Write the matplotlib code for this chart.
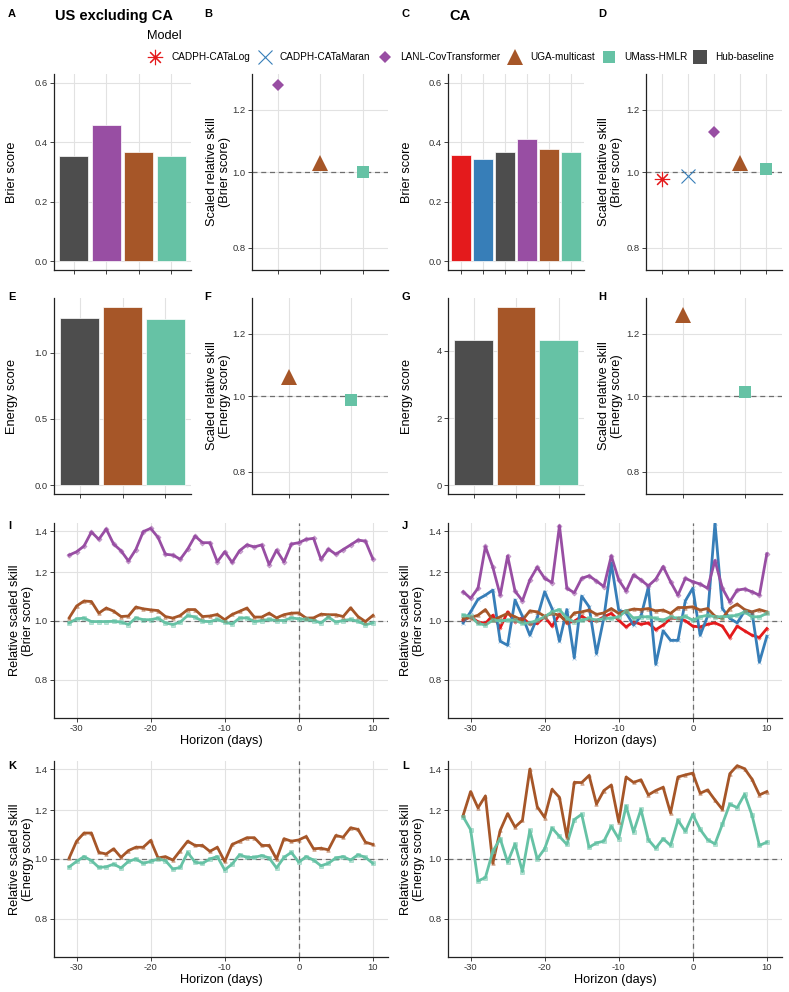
import matplotlib
matplotlib.use("Agg")
import matplotlib.pyplot as plt
import numpy as np
from matplotlib.lines import Line2D
from matplotlib.patches import Rectangle
from matplotlib.ticker import NullLocator
from matplotlib.transforms import blended_transform_factory

plt.rcParams['font.family'] = ['Liberation Sans', 'DejaVu Sans']

# ---- data -------------------------------------------------------------
models = ["CADPH-CATaLog", "CADPH-CATaMaran", "LANL-CovTransformer",
          "UGA-multicast", "UMass-HMLR", "Hub-baseline"]
model_colors = ["#E41A1C", "#377EB8", "#984EA3", "#A65628", "#66C2A5", "#4D4D4D"]
model_markers = [(8, 2, 0), "x", "D", "^", "s", "s"]

# overall scores (bars)
us_brier_models = ["Hub-baseline", "LANL-CovTransformer", "UGA-multicast", "UMass-HMLR"]
us_brier = [0.354, 0.458, 0.366, 0.353]
ca_brier_models = ["CADPH-CATaLog", "CADPH-CATaMaran", "Hub-baseline",
                   "LANL-CovTransformer", "UGA-multicast", "UMass-HMLR"]
ca_brier = [0.357, 0.344, 0.366, 0.410, 0.376, 0.368]
energy_models = ["Hub-baseline", "UGA-multicast", "UMass-HMLR"]
us_energy = [1.262, 1.345, 1.252]
ca_energy = [4.32, 5.31, 4.34]

# scaled relative skill (points)
us_skill_models = ["LANL-CovTransformer", "UGA-multicast", "UMass-HMLR"]
us_brier_skill = [1.29, 1.027, 1.001]
ca_skill_models = ["CADPH-CATaLog", "CADPH-CATaMaran", "LANL-CovTransformer",
                   "UGA-multicast", "UMass-HMLR"]
ca_brier_skill = [0.980, 0.989, 1.126, 1.027, 1.008]
energy_skill_models = ["UGA-multicast", "UMass-HMLR"]
us_energy_skill = [1.057, 0.989]
ca_energy_skill = [1.27, 1.011]

# skill by horizon
horizon = np.arange(-31, 11)

us_brier_lanl = [1.279, 1.295, 1.323, 1.395, 1.357, 1.411, 1.333, 1.300, 1.251, 1.306,
                 1.397, 1.414, 1.367, 1.283, 1.279, 1.259, 1.308, 1.374, 1.340, 1.340,
                 1.247, 1.295, 1.244, 1.300, 1.329, 1.319, 1.329, 1.234, 1.303, 1.247,
                 1.333, 1.340, 1.357, 1.362, 1.258, 1.308, 1.283, 1.306, 1.329, 1.353,
                 1.348, 1.261]
us_brier_uga = [1.010, 1.056, 1.076, 1.074, 1.028, 1.048, 1.036, 1.015, 1.017, 1.052,
                1.045, 1.041, 1.038, 1.015, 1.009, 1.019, 1.042, 1.042, 1.015, 1.017,
                1.023, 1.003, 1.023, 1.035, 1.048, 1.013, 1.013, 1.028, 1.010, 1.022,
                1.028, 1.029, 1.009, 1.010, 1.024, 1.022, 1.022, 1.015, 1.049, 1.015,
                0.996, 1.019]
us_brier_umass = [0.991, 1.006, 1.009, 0.996, 0.996, 0.996, 0.997, 0.994, 0.985, 1.010,
                  1.003, 1.003, 1.009, 0.991, 0.985, 0.994, 1.019, 1.013, 0.997, 0.996,
                  1.004, 0.994, 0.987, 1.009, 1.010, 0.996, 1.000, 1.004, 1.000, 1.000,
                  1.010, 1.006, 1.004, 1.000, 0.991, 1.013, 0.994, 1.000, 1.004, 0.997,
                  0.984, 0.991]

ca_brier_catalog = [1.001, 1.014, 0.995, 0.989, 1.020, 0.973, 1.033, 0.995, 1.011, 0.986,
                    0.989, 1.014, 0.979, 1.023, 0.991, 0.997, 1.016, 1.001, 0.999, 1.014,
                    1.027, 1.001, 0.976, 0.995, 0.986, 0.991, 0.966, 0.983, 1.008, 1.008,
                    0.999, 0.979, 0.976, 0.986, 0.991, 0.979, 0.938, 0.979, 0.962, 0.946,
                    0.938, 0.970]
ca_brier_catamaran = [0.991, 1.033, 1.083, 1.100, 1.121, 0.925, 0.911, 1.080, 1.016, 0.946,
                      1.011, 1.114, 1.046, 0.925, 1.042, 0.869, 1.096, 1.053, 0.883, 1.011,
                      1.240, 1.040, 1.029, 0.983, 1.016, 1.133, 0.848, 0.962, 0.928, 0.928,
                      1.077, 1.129, 0.946, 1.016, 1.443, 1.046, 1.008, 0.991, 1.036, 1.031,
                      0.855, 0.942]
ca_brier_lanl = [1.114, 1.087, 1.129, 1.321, 1.222, 1.100, 1.275, 1.117, 1.077, 1.165,
                 1.222, 1.172, 1.153, 1.428, 1.129, 1.110, 1.172, 1.183, 1.160, 1.136,
                 1.275, 1.165, 1.117, 1.187, 1.165, 1.139, 1.168, 1.225, 1.157, 1.100,
                 1.172, 1.157, 1.147, 1.129, 1.253, 1.129, 1.073, 1.121, 1.126, 1.114,
                 1.100, 1.285]
ca_brier_uga = [1.008, 1.011, 1.020, 1.042, 1.001, 1.014, 1.027, 1.014, 1.001, 1.037,
                1.033, 1.016, 1.027, 1.020, 0.995, 1.029, 1.033, 1.040, 1.023, 1.029,
                1.046, 1.027, 1.037, 1.044, 1.042, 1.046, 1.037, 1.040, 1.027, 1.050,
                1.050, 1.053, 1.040, 1.046, 1.016, 1.008, 1.046, 1.064, 1.042, 1.033,
                1.042, 1.033]
ca_brier_umass = [1.020, 1.016, 0.989, 0.983, 1.001, 0.999, 1.001, 1.001, 0.989, 0.991,
                  1.001, 1.014, 1.033, 1.042, 1.008, 0.995, 1.001, 1.008, 1.001, 1.008,
                  1.008, 1.014, 1.037, 1.008, 1.014, 1.014, 1.008, 1.001, 1.014, 1.008,
                  1.016, 1.001, 1.014, 1.020, 1.014, 1.014, 1.016, 1.020, 1.033, 1.014,
                  1.014, 1.027]

us_energy_uga = [1.004, 1.069, 1.102, 1.102, 1.025, 1.019, 1.039, 1.006, 1.032, 1.045,
                 1.045, 1.072, 1.004, 1.009, 0.996, 1.032, 1.069, 1.052, 1.052, 1.029,
                 1.045, 0.991, 1.056, 1.069, 1.083, 1.083, 1.052, 1.052, 1.000, 1.079,
                 1.069, 1.074, 1.088, 1.039, 1.041, 1.035, 1.092, 1.085, 1.124, 1.117,
                 1.065, 1.056]
us_energy_umass = [0.971, 0.991, 1.009, 0.994, 0.969, 0.971, 0.981, 0.967, 0.991, 1.000,
                   0.984, 0.991, 1.000, 0.994, 0.963, 0.969, 1.025, 0.988, 0.984, 1.000,
                   1.009, 0.960, 0.981, 1.016, 1.006, 1.006, 1.013, 1.004, 0.967, 1.006,
                   1.025, 0.988, 1.009, 0.996, 0.975, 0.984, 1.004, 1.009, 0.996, 1.016,
                   1.006, 0.984]

ca_energy_uga = [1.178, 1.287, 1.211, 1.266, 0.984, 1.113, 1.185, 1.127, 1.156, 1.400,
                 1.216, 1.168, 1.298, 1.259, 1.085, 1.332, 1.331, 1.367, 1.228, 1.292,
                 1.319, 1.149, 1.359, 1.332, 1.345, 1.271, 1.292, 1.308, 1.188, 1.359,
                 1.370, 1.379, 1.279, 1.295, 1.247, 1.204, 1.376, 1.418, 1.402, 1.348,
                 1.271, 1.287]
ca_energy_umass = [1.171, 1.116, 0.921, 0.933, 1.029, 1.079, 0.988, 1.058, 0.954, 1.113,
                   1.000, 1.039, 1.123, 1.088, 1.056, 1.159, 1.182, 1.045, 1.062, 1.069,
                   1.130, 1.079, 1.219, 1.106, 1.204, 1.075, 1.041, 1.079, 1.052, 1.156,
                   1.109, 1.181, 1.117, 1.075, 1.058, 1.139, 1.228, 1.212, 1.274, 1.178,
                   1.052, 1.065]

COL = dict(zip(models, model_colors))
MRK = dict(zip(models, model_markers))
MS = {"CADPH-CATaLog": 11, "CADPH-CATaMaran": 9.5, "LANL-CovTransformer": 6.5,
      "UGA-multicast": 11.5, "UMass-HMLR": 8.5, "Hub-baseline": 8.5}
THIN = ("CADPH-CATaLog", "CADPH-CATaMaran")

# ---- layout helpers ---------------------------------------------------
W, H = 789, 992
fig = plt.figure(figsize=(W / 100, H / 100), dpi=100)
fig.patch.set_facecolor("white")

AX_COL = "#222222"
GRID = "#e2e2e2"
DASH = "#6e6e6e"


def add_ax(l, t, r, b):
    return fig.add_axes([l / W, 1 - b / H, (r - l) / W, (b - t) / H])


def style(ax, ylab, lab_x):
    for s in ["top", "right"]:
        ax.spines[s].set_visible(False)
    for s in ["left", "bottom"]:
        ax.spines[s].set_color(AX_COL)
        ax.spines[s].set_linewidth(0.9)
    ax.grid(True, color=GRID, lw=0.8)
    ax.set_axisbelow(True)
    ax.tick_params(length=3, width=0.6, color=AX_COL, labelsize=6.8,
                   labelcolor="#333333", pad=1.5)
    ax.set_ylabel(ylab, fontsize=9.2, color="black", linespacing=1.15)
    ax.yaxis.set_label_coords(lab_x / W, 0.5,
                              transform=blended_transform_factory(fig.transFigure, ax.transAxes))


def bar_panel(ax, names, vals, ylim, yticks, ylabels, ylab, lab_x):
    x = np.arange(1, len(names) + 1)
    ax.bar(x, vals, width=0.9, color=[COL[n] for n in names],
           edgecolor="white", linewidth=0.5)
    ax.set_xlim(0.4, len(names) + 0.6)
    ax.set_xticks(x)
    ax.set_xticklabels([])
    ax.set_ylim(*ylim)
    ax.set_yticks(yticks)
    ax.set_yticklabels(ylabels)
    style(ax, ylab, lab_x)


def skill_panel(ax, names, vals, ylab, lab_x):
    x = np.arange(1, len(names) + 1)
    ax.set_yscale("log")
    ax.axhline(1.0, color=DASH, lw=0.9, ls=(0, (4, 3)), zorder=1)
    for xi, n, v in zip(x, names, vals):
        ax.plot([xi], [v], marker=MRK[n], color=COL[n], ms=MS[n], ls="none",
                mew=0.8 if n in THIN else 0, zorder=3)
    ax.set_xlim(0.4, len(names) + 0.6)
    ax.set_xticks(x)
    ax.set_xticklabels([])
    ax.set_ylim(1 / 1.334, 1.334)
    ax.set_yticks([0.8, 1.0, 1.2])
    ax.set_yticklabels(["0.8", "1.0", "1.2"])
    ax.yaxis.set_minor_locator(NullLocator())
    style(ax, ylab, lab_x)


def horizon_panel(ax, series, ylab, lab_x):
    ax.set_yscale("log")
    ax.axhline(1.0, color=DASH, lw=0.9, ls=(0, (4, 3)), zorder=1)
    ax.axvline(0, color=DASH, lw=0.9, ls=(0, (4, 3)), zorder=1)
    for n, vals in series:
        ax.plot(horizon, vals, color=COL[n], lw=2.0, zorder=3)
        ax.plot(horizon, vals, color=COL[n], ls="none", marker=MRK[n], ms=2.6,
                alpha=0.45, mew=0.6, zorder=4)
    ax.set_xlim(-33.05, 12.05)
    ax.set_xticks([-30, -20, -10, 0, 10])
    ax.set_xticklabels(["-30", "-20", "-10", "0", "10"])
    ax.set_ylim(1 / 1.443, 1.443)
    ax.set_yticks([0.8, 1.0, 1.2, 1.4])
    ax.set_yticklabels(["0.8", "1.0", "1.2", "1.4"])
    ax.yaxis.set_minor_locator(NullLocator())
    ax.set_xlabel("Horizon (days)", fontsize=9.2, labelpad=1.5)
    style(ax, ylab, lab_x)


# ---- panels -----------------------------------------------------------
axA = add_ax(54, 74, 191, 270)
bar_panel(axA, us_brier_models, us_brier, (-0.03, 0.63), [0, 0.2, 0.4, 0.6],
          ["0.0", "0.2", "0.4", "0.6"], "Brier score", 18)
axB = add_ax(252, 74, 388, 270)
skill_panel(axB, us_skill_models, us_brier_skill, "Scaled relative skill\n(Brier score)", 231)
axC = add_ax(448, 74, 584, 270)
bar_panel(axC, ca_brier_models, ca_brier, (-0.03, 0.63), [0, 0.2, 0.4, 0.6],
          ["0.0", "0.2", "0.4", "0.6"], "Brier score", 413)
axD = add_ax(646, 74, 782, 270)
skill_panel(axD, ca_skill_models, ca_brier_skill, "Scaled relative skill\n(Brier score)", 623)

axE = add_ax(54, 298, 191, 494)
bar_panel(axE, energy_models, us_energy, (-0.067, 1.412), [0, 0.5, 1.0],
          ["0.0", "0.5", "1.0"], "Energy score", 18)
axF = add_ax(252, 298, 388, 494)
skill_panel(axF, energy_skill_models, us_energy_skill, "Scaled relative skill\n(Energy score)", 231)
axG = add_ax(448, 298, 584, 494)
bar_panel(axG, energy_models, ca_energy, (-0.266, 5.58), [0, 2, 4],
          ["0", "2", "4"], "Energy score", 413)
axH = add_ax(646, 298, 782, 494)
skill_panel(axH, energy_skill_models, ca_energy_skill, "Scaled relative skill\n(Energy score)", 623)

axI = add_ax(54, 523, 388, 718)
horizon_panel(axI, [("LANL-CovTransformer", us_brier_lanl), ("UGA-multicast", us_brier_uga),
                    ("UMass-HMLR", us_brier_umass)],
              "Relative scaled skill\n(Brier score)", 34)
axJ = add_ax(448, 523, 782, 718)
horizon_panel(axJ, [("CADPH-CATaLog", ca_brier_catalog), ("CADPH-CATaMaran", ca_brier_catamaran),
                    ("LANL-CovTransformer", ca_brier_lanl), ("UGA-multicast", ca_brier_uga),
                    ("UMass-HMLR", ca_brier_umass)],
              "Relative scaled skill\n(Brier score)", 425)
axK = add_ax(54, 761, 388, 957)
horizon_panel(axK, [("UGA-multicast", us_energy_uga), ("UMass-HMLR", us_energy_umass)],
              "Relative scaled skill\n(Energy score)", 34)
axL = add_ax(448, 761, 782, 957)
horizon_panel(axL, [("UGA-multicast", ca_energy_uga), ("UMass-HMLR", ca_energy_umass)],
              "Relative scaled skill\n(Energy score)", 425)

# ---- panel tags & titles ----------------------------------------------
def ftext(x, y, s, **kw):
    fig.text(x / W, 1 - y / H, s, **kw)


for tag, x, y in [("A", 8, 9), ("B", 204, 9), ("C", 402, 9), ("D", 598, 9),
                  ("E", 8, 292), ("F", 204, 292), ("G", 402, 292), ("H", 598, 292),
                  ("I", 8, 521), ("J", 402, 521), ("K", 8, 761), ("L", 402, 761)]:
    ftext(x, y, tag, fontsize=8, fontweight="bold", va="top", ha="left")

ftext(55, 9, "US excluding CA", fontsize=10.5, fontweight="bold", va="top", ha="left")
ftext(449, 9, "CA", fontsize=10.5, fontweight="bold", va="top", ha="left")

# ---- legend -----------------------------------------------------------
ftext(147, 36, "Model", fontsize=9.2, va="center", ha="left")
leg_pos = [(155, 171), (265, 279), (385, 400), (515, 530), (609, 624), (700, 715)]
for n, (mx, tx) in zip(models, leg_pos):
    if n == "Hub-baseline":
        fig.add_artist(Rectangle(((mx - 7) / W, 1 - (57 + 7) / H), 14 / W, 14 / H,
                                 transform=fig.transFigure, color=COL[n], lw=0))
    else:
        fig.add_artist(Line2D([mx / W], [1 - 57 / H], transform=fig.transFigure,
                              marker=MRK[n], color=COL[n], ms=MS[n], ls="none",
                              mew=0.8 if n in THIN else 0))
    ftext(tx, 57, n, fontsize=7.2, va="center", ha="left")

fig.savefig("out.png", dpi=100, facecolor="white")
